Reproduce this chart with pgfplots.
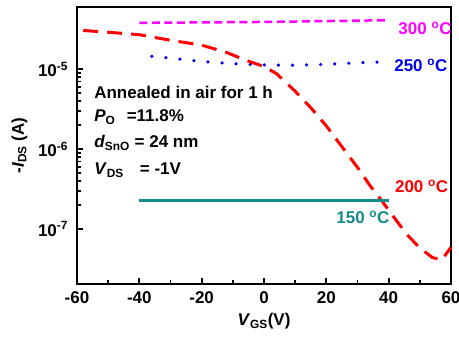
\documentclass[border=0pt]{standalone}
\usepackage{fontspec}
\setmainfont{Liberation Sans}
\usepackage{pgfplots}
\pgfplotsset{compat=1.18}
\definecolor{cmag}{RGB}{255,0,255}
\definecolor{cblue}{RGB}{0,0,235}
\definecolor{cred}{RGB}{255,0,0}
\definecolor{cteal}{RGB}{20,140,140}
\begin{document}
\fontsize{17pt}{19pt}\selectfont\bfseries
\begin{tikzpicture}
\begin{axis}[
  scale only axis, width=374pt, height=277pt,
  ymode=log, xmin=-60, xmax=60, ymin=2.05e-8, ymax=6e-5,
  xtick={-60,-40,...,60}, minor x tick num=1,
  ytick={1e-7,1e-6,1e-5},
  yticklabels={10\textsuperscript{-7},10\textsuperscript{-6},10\textsuperscript{-5}},
  xtick pos=bottom, ytick pos=left,
  tick align=inside,
  major tick length=6pt, minor tick length=4pt,
  every tick/.style={line width=1.8pt, black},
  line width=2.6pt,
  axis line style={line width=2.6pt},
  /pgf/number format/assume math mode=true,
  ticklabel style={font=\fontsize{17pt}{19pt}\selectfont\bfseries},
  xticklabel style={yshift=-1pt},
  yticklabel style={xshift=-2pt},
  xlabel={\textit{V}\textsubscript{GS}(V)},
  ylabel={-\textit{I}\textsubscript{DS} (A)},
  label style={font=\fontsize{17pt}{19pt}\selectfont\bfseries},
  xlabel style={yshift=3pt},
  ylabel style={yshift=-2pt},
  clip=false,
]
\addplot[cmag, line width=2.5pt, dash pattern=on 8pt off 4.5pt] coordinates {
(-40,3.8e-5) (-20,3.85e-5) (0,3.9e-5) (20,4.0e-5) (40,4.1e-5)};
\addplot[cblue, line width=3.5pt, line cap=round, dash pattern=on 0.1pt off 14pt] coordinates {
(-36,1.45e-5) (-28,1.35e-5) (-20,1.25e-5) (-10,1.17e-5) (0,1.13e-5) (10,1.12e-5) (20,1.15e-5) (30,1.2e-5) (40,1.24e-5)};
\addplot[cred, line width=3pt, dash pattern=on 15pt off 9pt] coordinates {
(-58,3.05e-5) (-50,2.9e-5) (-40,2.7e-5) (-30,2.3e-5) (-20,2.0e-5) (-12,1.62e-5) (-6,1.3e-5)
(0,1.08e-5) (4,8.8e-6) (10,5.3e-6) (15,3.3e-6) (20,1.95e-6) (26,9.5e-7) (30,5.9e-7)
(34,3.5e-7) (38,2.2e-7) (42,1.35e-7) (46,8.4e-8) (50,5.8e-8) (54,4.4e-8) (57,4.1e-8) (60,5.9e-8)};
\addplot[cteal, line width=2.5pt] coordinates {(-40,2.28e-7) (40,2.28e-7)};
\node[anchor=base west, inner sep=0] at (rel axis cs:0.0428,0.668) {Annealed in air for 1 h};
\node[anchor=base west, inner sep=0] at (rel axis cs:0.0428,0.585) {\textit{P}\textsubscript{O}\enspace\,=11.8\%};
\node[anchor=base west, inner sep=0] at (rel axis cs:0.0428,0.491) {\textit{d}\textsubscript{SnO} = 24 nm};
\node[anchor=base west, inner sep=0] at (rel axis cs:0.0428,0.394) {\textit{V}\textsubscript{DS}\enspace\, = -1V};
\node[anchor=base west, inner sep=0, text=cmag] at (rel axis cs:0.856,0.9) {300 \textsuperscript{o}C};
\node[anchor=base west, inner sep=0, text=cblue] at (rel axis cs:0.845,0.767) {250 \textsuperscript{o}C};
\node[anchor=base west, inner sep=0, text=cred] at (rel axis cs:0.847,0.330) {200 \textsuperscript{o}C};
\node[anchor=base west, inner sep=0, text=cteal] at (rel axis cs:0.690,0.217) {150 \textsuperscript{o}C};
\end{axis}
\pgfresetboundingbox
\path ([shift={(-77pt,-53pt)}]current axis.south west) rectangle ([shift={(8pt,7pt)}]current axis.north east);
\end{tikzpicture}
\end{document}
